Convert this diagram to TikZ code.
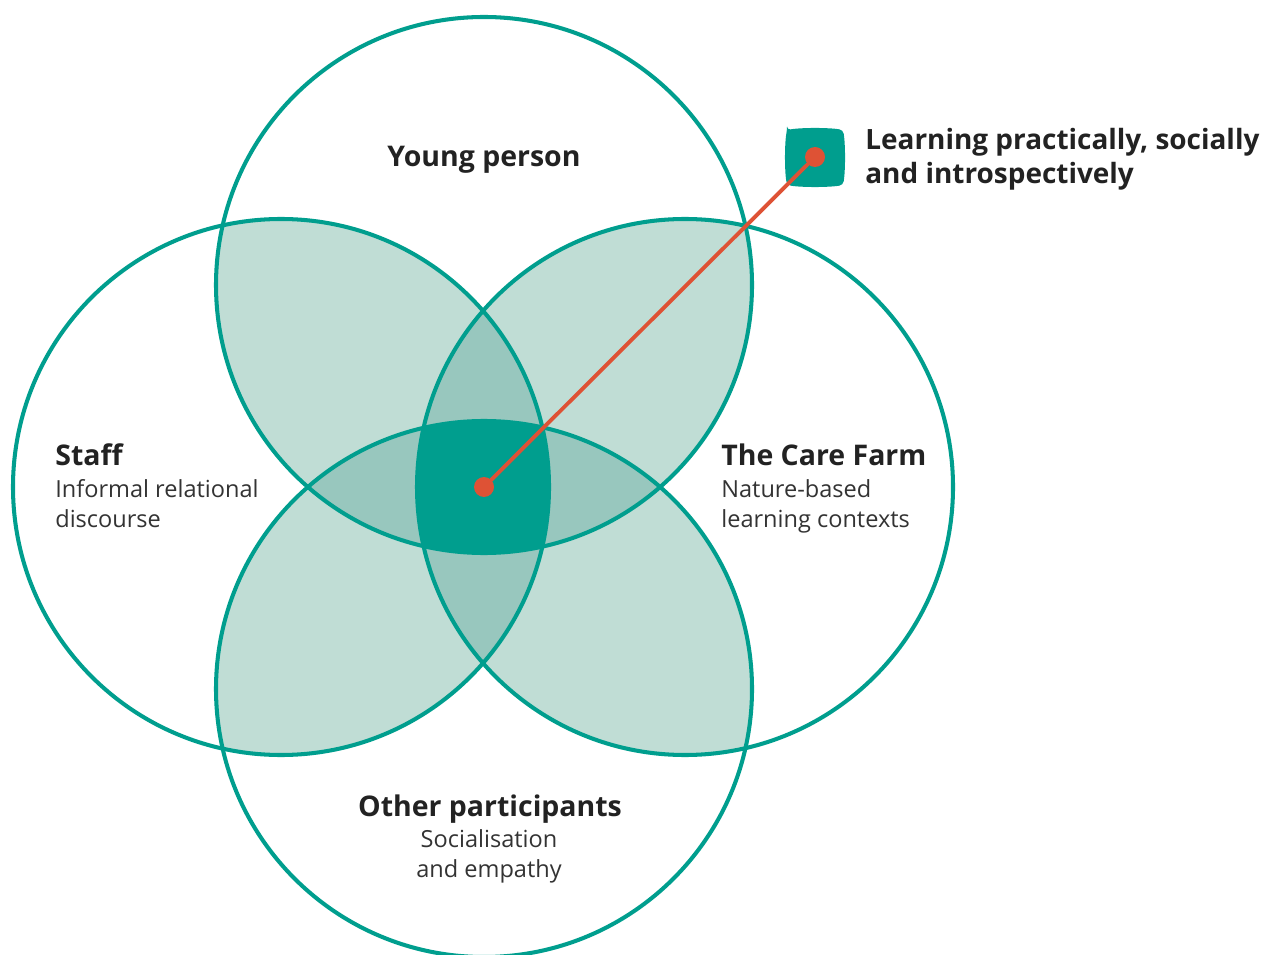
\documentclass[tikz,border=0pt]{standalone}
\usepackage{fontspec}
\setmainfont{Open Sans}
\definecolor{teal1}{HTML}{009E8E}
\definecolor{lightf}{HTML}{C0DDD5}
\definecolor{midf}{HTML}{98C7BE}
\definecolor{redl}{HTML}{DE5235}
\definecolor{txt}{HTML}{222222}
\definecolor{subtxt}{HTML}{333333}
\tikzset{
  ring/.style={draw=teal1, line width=2.3pt},
  title/.style={inner sep=0pt, text=txt, font=\bfseries\fontsize{16.2}{19}\selectfont},
  legendtxt/.style={inner sep=0pt, text=txt, font=\bfseries\fontsize{15.9}{19}\selectfont},
  sub/.style={inner sep=0pt, text=subtxt, font=\fontsize{13.4}{16}\selectfont},
  dot/.style={circle, fill=redl, inner sep=0pt, minimum size=0.4cm},
  link/.style={draw=redl, line width=2.2pt}
}
\begin{document}
\begin{tikzpicture}[x=0.02cm, y=-0.02cm]
\useasboundingbox (0,0) rectangle (1266,955);
\def\R{268}
\coordinate (T) at (484,285);
\coordinate (L) at (281,487);
\coordinate (Rt) at (685,487);
\coordinate (B) at (484,689);
% pairwise overlaps
\foreach \a/\b in {T/L,T/Rt,T/B,L/Rt,L/B,Rt/B}{
  \begin{scope}\clip (\a) circle (\R); \fill[lightf] (\b) circle (\R);\end{scope}
}
% triple overlaps
\foreach \a/\b/\c in {T/L/Rt,T/L/B,T/Rt/B,L/Rt/B}{
  \begin{scope}\clip (\a) circle (\R); \clip (\b) circle (\R); \fill[midf] (\c) circle (\R);\end{scope}
}
% quadruple
\begin{scope}\clip (T) circle (\R); \clip (L) circle (\R); \clip (Rt) circle (\R); \fill[teal1] (B) circle (\R);\end{scope}
% outlines
\foreach \c in {T,L,Rt,B}{ \draw[ring] (\c) circle (\R); }
% legend icon
\fill[teal1, rounded corners=2pt] (787,130) .. controls (801,127.5) and (829,127.5) .. (843,130)
  .. controls (845.5,144) and (845.5,171) .. (843,185)
  .. controls (829,187.5) and (801,187.5) .. (787,185)
  .. controls (784.5,171) and (784.5,144) .. (787,130) -- cycle;
\node[dot] (cdot) at (484,487) {};
\node[dot] (ldot) at (815,157) {};
\draw[link] (cdot.center) -- (ldot.center);
% labels
\node[title, anchor=base] (yp) at (484,167) {Young person};
\node[title, anchor=base west] (st) at (55,465) {Staff};
\node[sub, anchor=base west] (st1) at (55,497) {Informal relational};
\node[sub, anchor=base west] (st2) at (55,527) {discourse};
\node[title, anchor=base west] (cf) at (721,465) {The Care Farm};
\node[sub, anchor=base west] (cf1) at (721,497) {Nature-based};
\node[sub, anchor=base west] (cf2) at (721,527) {learning contexts};
\node[title, anchor=base] (op) at (490,816) {Other participants};
\node[sub, anchor=base] (op1) at (489,847) {Socialisation};
\node[sub, anchor=base] (op2) at (489,877) {and empathy};
\node[legendtxt, anchor=base west] (lg1) at (865,150) {Learning practically, socially};
\node[legendtxt, anchor=base west] (lg2) at (865,184) {and introspectively};
\end{tikzpicture}
\end{document}
